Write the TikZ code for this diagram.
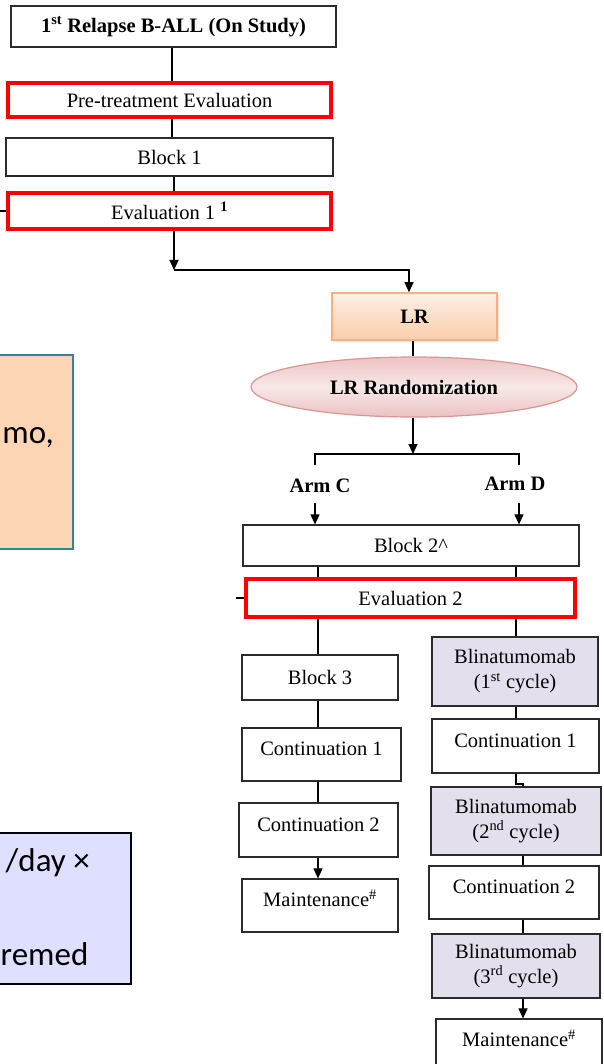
\documentclass[tikz,border=0pt]{standalone}
\usepackage{fontspec}
\setmainfont{Liberation Serif}
\newfontfamily\notefont{Carlito}
\usetikzlibrary{arrows.meta,shapes.geometric,shadows}

\definecolor{boxline}{HTML}{2B2B2B}
\definecolor{blinafill}{HTML}{E4DFEC}
\definecolor{notepeach}{HTML}{FCD5B4}
\definecolor{noteteal}{HTML}{31859C}
\definecolor{notelav}{HTML}{DFDFFF}
\definecolor{lrtop}{HTML}{FEF0E6}
\definecolor{lrbot}{HTML}{FBCDA8}
\definecolor{lrline}{HTML}{F6B183}
\definecolor{randtop}{HTML}{ECC4C3}
\definecolor{randmid}{HTML}{F8E8E8}
\definecolor{randbot}{HTML}{EBC2C1}
\definecolor{randline}{HTML}{D99694}

\begin{document}
\begin{tikzpicture}[x=1pt,y=-1pt,
  every node/.style={font=\fontsize{20.5}{25}\selectfont, inner sep=0pt, text=black},
  box/.style={draw=boxline, line width=1.2pt, fill=white, rectangle},
  redbox/.style={draw=red, line width=4pt, fill=white, rectangle},
  blina/.style={box, fill=blinafill, align=center},
  toptext/.style={text height=14pt, text depth=11.6pt},
  notetext/.style={font=\notefont\fontsize{33}{40}\selectfont, anchor=base east},
  conn/.style={line width=1.1pt, draw=black},
  arr/.style={conn, -{Triangle[length=10pt,width=9pt]}},
]
\useasboundingbox (0,0) rectangle (603,1064);
\clip (0,0) rectangle (603,1064);
\fill[white] (0,0) rectangle (603,1064);

% side notes, partly outside the frame
\node[draw=noteteal, line width=1.8pt, fill=notepeach, minimum width=93pt, minimum height=194pt] (noteA) at (26.5,452) {};
\node[notetext] (noteAtxt) at (54,443) {mo,};
\node[draw=black, line width=1.5pt, fill=notelav, minimum width=151pt, minimum height=151pt] (noteB) at (55.5,908.5) {};
\node[notetext] (noteBtxtA) at (90,871) {/day ×};
\node[notetext] (noteBtxtB) at (88.5,965) {remed};

% column positions for connectors
\coordinate (xA) at (172,0);
\coordinate (xB) at (174,0);
\coordinate (xLR) at (409,0);
\coordinate (xM) at (413,0);
\coordinate (xC) at (315,0);
\coordinate (xD) at (519,0);
\coordinate (xL) at (318,0);
\coordinate (xR) at (516,0);
\coordinate (xRR) at (523,0);
\coordinate (bendA) at (174,270);
\coordinate (split) at (413,454);
\coordinate (legC) at (315,465);
\coordinate (legD) at (519,465);
\coordinate (tailC) at (315,503);
\coordinate (tailD) at (519,503);
\coordinate (jogR) at (523,784);
\coordinate (tickA) at (-2,211);
\coordinate (tickB) at (236,598);

% top part
\node[box, minimum width=325pt, minimum height=41pt] (title) at (173.5,26.5) {\bfseries 1\textsuperscript{st} Relapse B-ALL (On Study)};
\node[redbox, minimum width=323pt, minimum height=34pt] (pre) at (169.5,100) {Pre-treatment Evaluation};
\node[box, minimum width=327pt, minimum height=38pt] (block1) at (169.5,157) {Block 1};
\node[redbox, minimum width=323pt, minimum height=36pt] (eval1) at (169.5,211) {Evaluation 1 \textsuperscript{\bfseries 1}};

% LR stratum and randomisation
\node[draw=lrline, line width=1.5pt, top color=lrtop, bottom color=lrbot,
      drop shadow={opacity=0.18, shadow xshift=2pt, shadow yshift=-2pt},
      minimum width=165pt, minimum height=47pt] (LR) at (414.5,316.5) {\bfseries LR};
\node[ellipse, draw=randline, line width=1.2pt, top color=randtop, bottom color=randbot, middle color=randmid,
      minimum width=326pt, minimum height=60pt] (rand) at (414,387) {\bfseries LR Randomization};

\node (armC) at (320,486) {\bfseries Arm C};
\node (armD) at (515,484) {\bfseries Arm D};

\node[box, minimum width=336pt, minimum height=41pt] (block2) at (411,545.5) {Block 2\textasciicircum};
\node[redbox, minimum width=329pt, minimum height=38pt] (eval2) at (410.5,598) {Evaluation 2};

% Arm C
\node[box, minimum width=156pt, minimum height=45pt] (block3) at (320,677.5) {Block 3};
\node[box, toptext, minimum width=159pt, minimum height=53pt] (cont1L) at (321.5,754.5) {Continuation 1};
\node[box, toptext, minimum width=159pt, minimum height=54pt] (cont2L) at (318.5,830) {Continuation 2};
\node[box, toptext, minimum width=156pt, minimum height=53pt] (maintL) at (320,905.5) {Maintenance\textsuperscript{\#}};

% Arm D
\node[blina, minimum width=166pt, minimum height=69pt] (blina1) at (515,671.5) {Blinatumomab\\(1\textsuperscript{st} cycle)};
\node[box, toptext, minimum width=167pt, minimum height=54pt] (cont1R) at (515.5,746) {Continuation 1};
\node[blina, minimum width=170pt, minimum height=68pt] (blina2) at (516,821) {Blinatumomab\\(2\textsuperscript{nd} cycle)};
\node[box, toptext, minimum width=170pt, minimum height=53pt] (cont2R) at (514,892.5) {Continuation 2};
\node[blina, minimum width=168pt, minimum height=64pt] (blina3) at (516,966) {Blinatumomab\\(3\textsuperscript{rd} cycle)};
\node[box, toptext, minimum width=166pt, minimum height=53pt] (maintR) at (519,1045.5) {Maintenance\textsuperscript{\#}};

% connectors
\draw[conn] (title.south -| xA) -- (pre.north -| xA);
\draw[conn] (pre.south -| xA) -- (block1.north -| xA);
\draw[conn] (block1.south -| xB) -- (eval1.north -| xB);
\draw[conn] (eval1.west) -- (tickA);
\draw[arr] (eval1.south -| xB) -- (bendA);
\draw[arr] (bendA) -| (LR.north -| xLR);
\draw[conn] (LR.south -| xM) -- (rand.north -| xM);
\draw[arr] (rand.south -| xM) -- (split);
\draw[conn] (legC) |- (split) -| (legD);
\draw[arr] (tailC) -- (block2.north -| xC);
\draw[arr] (tailD) -- (block2.north -| xD);
\draw[conn] (block2.south -| xL) -- (eval2.north -| xL);
\draw[conn] (block2.south -| xR) -- (eval2.north -| xR);
\draw[conn] (eval2.west) -- (tickB);
\draw[conn] (eval2.south -| xL) -- (block3.north -| xL);
\draw[conn] (eval2.south -| xR) -- (blina1.north -| xR);
\draw[conn] (block3.south -| xL) -- (cont1L.north -| xL);
\draw[conn] (cont1L.south -| xL) -- (cont2L.north -| xL);
\draw[arr] (cont2L.south -| xL) -- (maintL.north -| xL);
\draw[conn] (blina1.south -| xR) -- (cont1R.north -| xR);
\draw[conn] (cont1R.south -| xR) |- (jogR) -- (blina2.north -| xRR);
\draw[conn] (blina2.south -| xRR) -- (cont2R.north -| xRR);
\draw[conn] (cont2R.south -| xRR) -- (blina3.north -| xRR);
\draw[arr] (blina3.south -| xRR) -- (maintR.north -| xRR);
\end{tikzpicture}
\end{document}
